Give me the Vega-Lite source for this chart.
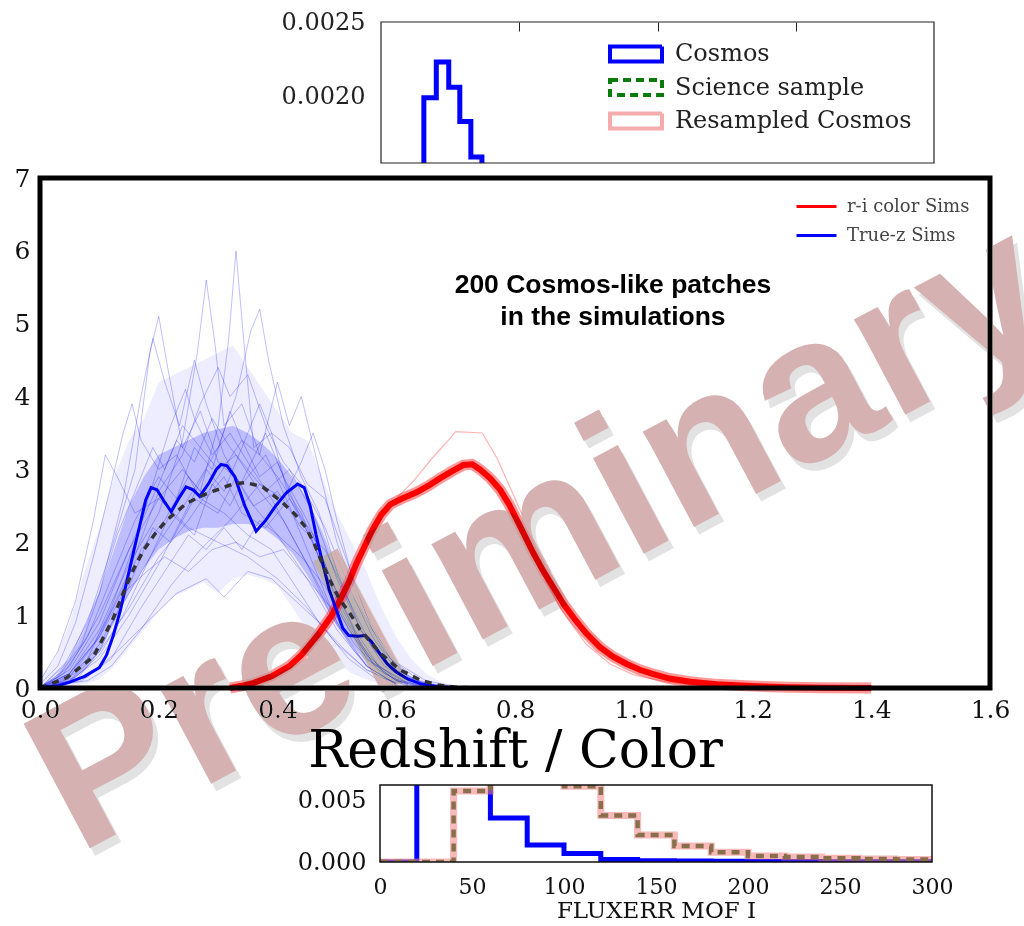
{
  "$schema": "https://vega.github.io/schema/vega-lite/v6.json",
  "background": "white",
  "padding": {"left": 0, "top": 10, "right": -60, "bottom": 0},
  "config": {"view": {"stroke": null}, "font": "DejaVu Serif"},
  "datasets": {
    "topHist": [
      {"x": 105, "y": 0.0012, "sample": "Cosmos"},
      {"x": 155, "y": 0.00199, "sample": "Cosmos"},
      {"x": 200, "y": 0.00223, "sample": "Cosmos"},
      {"x": 245, "y": 0.00206, "sample": "Cosmos"},
      {"x": 285, "y": 0.00183, "sample": "Cosmos"},
      {"x": 325, "y": 0.00159, "sample": "Cosmos"},
      {"x": 365, "y": 0.0013, "sample": "Cosmos"},
      {"x": 405, "y": 0.0011, "sample": "Cosmos"},
      {"x": 445, "y": 0.0009, "sample": "Cosmos"}
    ],
    "band": [
      {"x": 0, "lo": 0, "q1": 0, "q3": 0.02, "hi": 0.12},
      {"x": 0.025, "lo": 0, "q1": 0.02, "q3": 0.15, "hi": 0.4},
      {"x": 0.05, "lo": 0.02, "q1": 0.08, "q3": 0.4, "hi": 0.9},
      {"x": 0.075, "lo": 0.05, "q1": 0.25, "q3": 0.8, "hi": 1.6},
      {"x": 0.1, "lo": 0.12, "q1": 0.5, "q3": 1.3, "hi": 2.2},
      {"x": 0.125, "lo": 0.3, "q1": 0.9, "q3": 1.9, "hi": 2.9},
      {"x": 0.15, "lo": 0.55, "q1": 1.3, "q3": 2.5, "hi": 3.4},
      {"x": 0.175, "lo": 0.8, "q1": 1.65, "q3": 2.9, "hi": 3.7},
      {"x": 0.2, "lo": 1.05, "q1": 1.9, "q3": 3.2, "hi": 4.2},
      {"x": 0.225, "lo": 1.25, "q1": 2.05, "q3": 3.3, "hi": 4.3},
      {"x": 0.25, "lo": 1.35, "q1": 2.15, "q3": 3.4, "hi": 4.4},
      {"x": 0.275, "lo": 1.45, "q1": 2.2, "q3": 3.5, "hi": 4.5},
      {"x": 0.3, "lo": 1.3, "q1": 2.2, "q3": 3.55, "hi": 4.6},
      {"x": 0.325, "lo": 1.5, "q1": 2.25, "q3": 3.6, "hi": 4.7},
      {"x": 0.35, "lo": 1.55, "q1": 2.25, "q3": 3.5, "hi": 4.4},
      {"x": 0.375, "lo": 1.5, "q1": 2.2, "q3": 3.35, "hi": 4.1},
      {"x": 0.4, "lo": 1.4, "q1": 2.05, "q3": 3.15, "hi": 3.8},
      {"x": 0.425, "lo": 1.1, "q1": 1.85, "q3": 2.9, "hi": 3.5},
      {"x": 0.45, "lo": 0.8, "q1": 1.55, "q3": 2.6, "hi": 3.4},
      {"x": 0.475, "lo": 0.55, "q1": 1.2, "q3": 2.15, "hi": 2.9},
      {"x": 0.5, "lo": 0.35, "q1": 0.85, "q3": 1.65, "hi": 2.4},
      {"x": 0.525, "lo": 0.2, "q1": 0.6, "q3": 1.3, "hi": 2.0},
      {"x": 0.55, "lo": 0.12, "q1": 0.35, "q3": 0.95, "hi": 1.6},
      {"x": 0.575, "lo": 0.05, "q1": 0.18, "q3": 0.6, "hi": 1.1},
      {"x": 0.6, "lo": 0.02, "q1": 0.08, "q3": 0.33, "hi": 0.7},
      {"x": 0.625, "lo": 0.01, "q1": 0.03, "q3": 0.15, "hi": 0.4},
      {"x": 0.65, "lo": 0, "q1": 0.01, "q3": 0.06, "hi": 0.2},
      {"x": 0.675, "lo": 0, "q1": 0, "q3": 0.02, "hi": 0.08},
      {"x": 0.7, "lo": 0, "q1": 0, "q3": 0.01, "hi": 0.03}
    ],
    "sims": [
      {"id": "a", "x": 0, "y": 0}, {"id": "a", "x": 0.05, "y": 0.3}, {"id": "a", "x": 0.1, "y": 1.0}, {"id": "a", "x": 0.15, "y": 1.9}, {"id": "a", "x": 0.2, "y": 2.6}, {"id": "a", "x": 0.24, "y": 3.0}, {"id": "a", "x": 0.27, "y": 2.7}, {"id": "a", "x": 0.3, "y": 3.6}, {"id": "a", "x": 0.318, "y": 4.8}, {"id": "a", "x": 0.33, "y": 6.0}, {"id": "a", "x": 0.345, "y": 4.6}, {"id": "a", "x": 0.36, "y": 3.3}, {"id": "a", "x": 0.39, "y": 3.5}, {"id": "a", "x": 0.42, "y": 2.6}, {"id": "a", "x": 0.46, "y": 2.0}, {"id": "a", "x": 0.5, "y": 1.1}, {"id": "a", "x": 0.55, "y": 0.4}, {"id": "a", "x": 0.6, "y": 0.1}, {"id": "a", "x": 0.65, "y": 0},
      {"id": "b", "x": 0, "y": 0}, {"id": "b", "x": 0.05, "y": 0.2}, {"id": "b", "x": 0.1, "y": 0.8}, {"id": "b", "x": 0.15, "y": 1.7}, {"id": "b", "x": 0.2, "y": 2.4}, {"id": "b", "x": 0.24, "y": 3.4}, {"id": "b", "x": 0.265, "y": 4.6}, {"id": "b", "x": 0.28, "y": 5.6}, {"id": "b", "x": 0.295, "y": 4.7}, {"id": "b", "x": 0.31, "y": 3.6}, {"id": "b", "x": 0.34, "y": 3.9}, {"id": "b", "x": 0.37, "y": 3.2}, {"id": "b", "x": 0.4, "y": 2.9}, {"id": "b", "x": 0.44, "y": 2.4}, {"id": "b", "x": 0.48, "y": 1.6}, {"id": "b", "x": 0.52, "y": 0.9}, {"id": "b", "x": 0.56, "y": 0.35}, {"id": "b", "x": 0.62, "y": 0.05},
      {"id": "c", "x": 0, "y": 0}, {"id": "c", "x": 0.04, "y": 0.3}, {"id": "c", "x": 0.08, "y": 0.9}, {"id": "c", "x": 0.12, "y": 1.9}, {"id": "c", "x": 0.16, "y": 3.0}, {"id": "c", "x": 0.185, "y": 4.6}, {"id": "c", "x": 0.2, "y": 5.1}, {"id": "c", "x": 0.215, "y": 4.4}, {"id": "c", "x": 0.24, "y": 3.3}, {"id": "c", "x": 0.27, "y": 3.8}, {"id": "c", "x": 0.3, "y": 3.1}, {"id": "c", "x": 0.34, "y": 2.8}, {"id": "c", "x": 0.38, "y": 3.2}, {"id": "c", "x": 0.42, "y": 2.5}, {"id": "c", "x": 0.46, "y": 1.7}, {"id": "c", "x": 0.5, "y": 0.9}, {"id": "c", "x": 0.55, "y": 0.3}, {"id": "c", "x": 0.6, "y": 0.05},
      {"id": "d", "x": 0, "y": 0}, {"id": "d", "x": 0.06, "y": 0.2}, {"id": "d", "x": 0.1, "y": 0.6}, {"id": "d", "x": 0.15, "y": 1.3}, {"id": "d", "x": 0.2, "y": 2.0}, {"id": "d", "x": 0.25, "y": 2.6}, {"id": "d", "x": 0.3, "y": 3.3}, {"id": "d", "x": 0.33, "y": 4.0}, {"id": "d", "x": 0.355, "y": 4.9}, {"id": "d", "x": 0.37, "y": 5.2}, {"id": "d", "x": 0.385, "y": 4.5}, {"id": "d", "x": 0.41, "y": 3.6}, {"id": "d", "x": 0.44, "y": 2.9}, {"id": "d", "x": 0.47, "y": 2.4}, {"id": "d", "x": 0.5, "y": 1.6}, {"id": "d", "x": 0.54, "y": 0.8}, {"id": "d", "x": 0.58, "y": 0.3}, {"id": "d", "x": 0.63, "y": 0.05},
      {"id": "e", "x": 0, "y": 0}, {"id": "e", "x": 0.05, "y": 0.4}, {"id": "e", "x": 0.1, "y": 1.3}, {"id": "e", "x": 0.14, "y": 2.6}, {"id": "e", "x": 0.17, "y": 4.0}, {"id": "e", "x": 0.19, "y": 4.8}, {"id": "e", "x": 0.21, "y": 4.2}, {"id": "e", "x": 0.235, "y": 3.6}, {"id": "e", "x": 0.26, "y": 4.5}, {"id": "e", "x": 0.28, "y": 3.9}, {"id": "e", "x": 0.31, "y": 3.2}, {"id": "e", "x": 0.35, "y": 2.6}, {"id": "e", "x": 0.4, "y": 2.1}, {"id": "e", "x": 0.45, "y": 1.5}, {"id": "e", "x": 0.5, "y": 0.8}, {"id": "e", "x": 0.55, "y": 0.3}, {"id": "e", "x": 0.6, "y": 0.05},
      {"id": "f", "x": 0, "y": 0.05}, {"id": "f", "x": 0.03, "y": 0.3}, {"id": "f", "x": 0.06, "y": 0.9}, {"id": "f", "x": 0.09, "y": 1.8}, {"id": "f", "x": 0.12, "y": 2.8}, {"id": "f", "x": 0.14, "y": 3.5}, {"id": "f", "x": 0.155, "y": 3.9}, {"id": "f", "x": 0.17, "y": 3.4}, {"id": "f", "x": 0.2, "y": 3.0}, {"id": "f", "x": 0.23, "y": 3.2}, {"id": "f", "x": 0.27, "y": 2.6}, {"id": "f", "x": 0.31, "y": 2.4}, {"id": "f", "x": 0.35, "y": 2.1}, {"id": "f", "x": 0.39, "y": 1.9}, {"id": "f", "x": 0.43, "y": 1.4}, {"id": "f", "x": 0.47, "y": 0.9}, {"id": "f", "x": 0.52, "y": 0.4}, {"id": "f", "x": 0.57, "y": 0.1},
      {"id": "g", "x": 0, "y": 0.1}, {"id": "g", "x": 0.03, "y": 0.5}, {"id": "g", "x": 0.06, "y": 1.2}, {"id": "g", "x": 0.09, "y": 2.3}, {"id": "g", "x": 0.11, "y": 3.2}, {"id": "g", "x": 0.13, "y": 2.9}, {"id": "g", "x": 0.16, "y": 2.4}, {"id": "g", "x": 0.2, "y": 2.6}, {"id": "g", "x": 0.25, "y": 2.2}, {"id": "g", "x": 0.3, "y": 2.0}, {"id": "g", "x": 0.35, "y": 1.8}, {"id": "g", "x": 0.4, "y": 1.5}, {"id": "g", "x": 0.45, "y": 1.1}, {"id": "g", "x": 0.5, "y": 0.6}, {"id": "g", "x": 0.55, "y": 0.25}, {"id": "g", "x": 0.6, "y": 0.05},
      {"id": "h", "x": 0, "y": 0}, {"id": "h", "x": 0.08, "y": 0.1}, {"id": "h", "x": 0.12, "y": 0.3}, {"id": "h", "x": 0.17, "y": 0.8}, {"id": "h", "x": 0.22, "y": 1.4}, {"id": "h", "x": 0.27, "y": 1.9}, {"id": "h", "x": 0.32, "y": 2.3}, {"id": "h", "x": 0.37, "y": 2.8}, {"id": "h", "x": 0.41, "y": 2.6}, {"id": "h", "x": 0.44, "y": 3.1}, {"id": "h", "x": 0.46, "y": 3.5}, {"id": "h", "x": 0.48, "y": 3.0}, {"id": "h", "x": 0.5, "y": 2.3}, {"id": "h", "x": 0.53, "y": 1.4}, {"id": "h", "x": 0.56, "y": 0.8}, {"id": "h", "x": 0.6, "y": 0.35}, {"id": "h", "x": 0.65, "y": 0.1}, {"id": "h", "x": 0.7, "y": 0.02},
      {"id": "i", "x": 0, "y": 0}, {"id": "i", "x": 0.08, "y": 0.15}, {"id": "i", "x": 0.13, "y": 0.5}, {"id": "i", "x": 0.18, "y": 0.9}, {"id": "i", "x": 0.23, "y": 1.3}, {"id": "i", "x": 0.28, "y": 1.5}, {"id": "i", "x": 0.31, "y": 1.25}, {"id": "i", "x": 0.35, "y": 1.6}, {"id": "i", "x": 0.39, "y": 1.5}, {"id": "i", "x": 0.43, "y": 1.2}, {"id": "i", "x": 0.47, "y": 0.9}, {"id": "i", "x": 0.51, "y": 0.55}, {"id": "i", "x": 0.55, "y": 0.25}, {"id": "i", "x": 0.6, "y": 0.07},
      {"id": "j", "x": 0, "y": 0}, {"id": "j", "x": 0.05, "y": 0.15}, {"id": "j", "x": 0.1, "y": 0.7}, {"id": "j", "x": 0.15, "y": 1.6}, {"id": "j", "x": 0.2, "y": 2.7}, {"id": "j", "x": 0.24, "y": 3.2}, {"id": "j", "x": 0.27, "y": 3.9}, {"id": "j", "x": 0.3, "y": 4.4}, {"id": "j", "x": 0.32, "y": 4.0}, {"id": "j", "x": 0.35, "y": 4.3}, {"id": "j", "x": 0.38, "y": 3.6}, {"id": "j", "x": 0.41, "y": 3.1}, {"id": "j", "x": 0.44, "y": 2.8}, {"id": "j", "x": 0.48, "y": 2.2}, {"id": "j", "x": 0.52, "y": 1.4}, {"id": "j", "x": 0.56, "y": 0.7}, {"id": "j", "x": 0.6, "y": 0.25}, {"id": "j", "x": 0.65, "y": 0.05},
      {"id": "k", "x": 0, "y": 0}, {"id": "k", "x": 0.06, "y": 0.1}, {"id": "k", "x": 0.1, "y": 0.5}, {"id": "k", "x": 0.15, "y": 1.1}, {"id": "k", "x": 0.2, "y": 1.8}, {"id": "k", "x": 0.25, "y": 2.3}, {"id": "k", "x": 0.3, "y": 2.9}, {"id": "k", "x": 0.34, "y": 3.4}, {"id": "k", "x": 0.37, "y": 3.2}, {"id": "k", "x": 0.4, "y": 4.2}, {"id": "k", "x": 0.42, "y": 3.6}, {"id": "k", "x": 0.44, "y": 4.0}, {"id": "k", "x": 0.47, "y": 3.0}, {"id": "k", "x": 0.5, "y": 2.0}, {"id": "k", "x": 0.54, "y": 1.1}, {"id": "k", "x": 0.58, "y": 0.5}, {"id": "k", "x": 0.62, "y": 0.15}, {"id": "k", "x": 0.66, "y": 0.03},
      {"id": "l", "x": 0, "y": 0}, {"id": "l", "x": 0.05, "y": 0.25}, {"id": "l", "x": 0.1, "y": 0.9}, {"id": "l", "x": 0.15, "y": 1.9}, {"id": "l", "x": 0.2, "y": 2.8}, {"id": "l", "x": 0.23, "y": 3.4}, {"id": "l", "x": 0.26, "y": 3.1}, {"id": "l", "x": 0.29, "y": 3.7}, {"id": "l", "x": 0.32, "y": 3.3}, {"id": "l", "x": 0.35, "y": 3.0}, {"id": "l", "x": 0.38, "y": 3.5}, {"id": "l", "x": 0.41, "y": 2.9}, {"id": "l", "x": 0.45, "y": 2.3}, {"id": "l", "x": 0.49, "y": 1.5}, {"id": "l", "x": 0.53, "y": 0.8}, {"id": "l", "x": 0.57, "y": 0.3}, {"id": "l", "x": 0.62, "y": 0.07},
      {"id": "m", "x": 0, "y": 0}, {"id": "m", "x": 0.05, "y": 0.1}, {"id": "m", "x": 0.1, "y": 0.5}, {"id": "m", "x": 0.15, "y": 1.4}, {"id": "m", "x": 0.19, "y": 2.2}, {"id": "m", "x": 0.22, "y": 2.0}, {"id": "m", "x": 0.26, "y": 2.6}, {"id": "m", "x": 0.3, "y": 2.4}, {"id": "m", "x": 0.33, "y": 2.9}, {"id": "m", "x": 0.36, "y": 2.5}, {"id": "m", "x": 0.4, "y": 2.7}, {"id": "m", "x": 0.44, "y": 2.2}, {"id": "m", "x": 0.48, "y": 1.9}, {"id": "m", "x": 0.52, "y": 1.2}, {"id": "m", "x": 0.56, "y": 0.55}, {"id": "m", "x": 0.6, "y": 0.2}, {"id": "m", "x": 0.65, "y": 0.04},
      {"id": "n", "x": 0, "y": 0}, {"id": "n", "x": 0.04, "y": 0.2}, {"id": "n", "x": 0.08, "y": 0.7}, {"id": "n", "x": 0.12, "y": 1.5}, {"id": "n", "x": 0.16, "y": 2.3}, {"id": "n", "x": 0.2, "y": 2.9}, {"id": "n", "x": 0.23, "y": 2.6}, {"id": "n", "x": 0.26, "y": 3.3}, {"id": "n", "x": 0.29, "y": 3.0}, {"id": "n", "x": 0.32, "y": 3.8}, {"id": "n", "x": 0.34, "y": 3.4}, {"id": "n", "x": 0.37, "y": 2.9}, {"id": "n", "x": 0.4, "y": 3.1}, {"id": "n", "x": 0.43, "y": 2.5}, {"id": "n", "x": 0.47, "y": 1.8}, {"id": "n", "x": 0.51, "y": 1.0}, {"id": "n", "x": 0.55, "y": 0.45}, {"id": "n", "x": 0.6, "y": 0.12}, {"id": "n", "x": 0.65, "y": 0.02},
      {"id": "o", "x": 0, "y": 0}, {"id": "o", "x": 0.06, "y": 0.15}, {"id": "o", "x": 0.1, "y": 0.45}, {"id": "o", "x": 0.14, "y": 1.0}, {"id": "o", "x": 0.18, "y": 1.7}, {"id": "o", "x": 0.22, "y": 2.4}, {"id": "o", "x": 0.26, "y": 2.1}, {"id": "o", "x": 0.29, "y": 2.8}, {"id": "o", "x": 0.32, "y": 2.5}, {"id": "o", "x": 0.35, "y": 3.0}, {"id": "o", "x": 0.38, "y": 2.7}, {"id": "o", "x": 0.42, "y": 3.0}, {"id": "o", "x": 0.46, "y": 2.4}, {"id": "o", "x": 0.5, "y": 1.5}, {"id": "o", "x": 0.54, "y": 0.8}, {"id": "o", "x": 0.58, "y": 0.35}, {"id": "o", "x": 0.63, "y": 0.08},
      {"id": "p", "x": 0, "y": 0}, {"id": "p", "x": 0.04, "y": 0.1}, {"id": "p", "x": 0.08, "y": 0.4}, {"id": "p", "x": 0.12, "y": 1.1}, {"id": "p", "x": 0.16, "y": 2.0}, {"id": "p", "x": 0.19, "y": 2.8}, {"id": "p", "x": 0.22, "y": 3.6}, {"id": "p", "x": 0.245, "y": 4.1}, {"id": "p", "x": 0.26, "y": 3.7}, {"id": "p", "x": 0.29, "y": 3.2}, {"id": "p", "x": 0.32, "y": 3.5}, {"id": "p", "x": 0.35, "y": 3.1}, {"id": "p", "x": 0.39, "y": 2.6}, {"id": "p", "x": 0.43, "y": 2.0}, {"id": "p", "x": 0.47, "y": 1.4}, {"id": "p", "x": 0.51, "y": 0.75}, {"id": "p", "x": 0.55, "y": 0.3}, {"id": "p", "x": 0.6, "y": 0.06},
      {"id": "q", "x": 0, "y": 0}, {"id": "q", "x": 0.07, "y": 0.1}, {"id": "q", "x": 0.12, "y": 0.4}, {"id": "q", "x": 0.17, "y": 1.1}, {"id": "q", "x": 0.21, "y": 1.6}, {"id": "q", "x": 0.25, "y": 2.1}, {"id": "q", "x": 0.28, "y": 1.9}, {"id": "q", "x": 0.31, "y": 2.2}, {"id": "q", "x": 0.34, "y": 1.9}, {"id": "q", "x": 0.37, "y": 2.3}, {"id": "q", "x": 0.4, "y": 2.1}, {"id": "q", "x": 0.44, "y": 1.8}, {"id": "q", "x": 0.48, "y": 1.4}, {"id": "q", "x": 0.52, "y": 0.8}, {"id": "q", "x": 0.56, "y": 0.35}, {"id": "q", "x": 0.6, "y": 0.1}, {"id": "q", "x": 0.65, "y": 0.02},
      {"id": "r", "x": 0, "y": 0.02}, {"id": "r", "x": 0.03, "y": 0.15}, {"id": "r", "x": 0.07, "y": 0.6}, {"id": "r", "x": 0.1, "y": 1.3}, {"id": "r", "x": 0.13, "y": 2.1}, {"id": "r", "x": 0.16, "y": 2.7}, {"id": "r", "x": 0.19, "y": 3.3}, {"id": "r", "x": 0.21, "y": 3.0}, {"id": "r", "x": 0.24, "y": 3.6}, {"id": "r", "x": 0.27, "y": 3.3}, {"id": "r", "x": 0.3, "y": 3.0}, {"id": "r", "x": 0.33, "y": 3.2}, {"id": "r", "x": 0.37, "y": 2.7}, {"id": "r", "x": 0.41, "y": 2.3}, {"id": "r", "x": 0.45, "y": 1.7}, {"id": "r", "x": 0.49, "y": 1.0}, {"id": "r", "x": 0.53, "y": 0.5}, {"id": "r", "x": 0.57, "y": 0.15}, {"id": "r", "x": 0.62, "y": 0.03},
      {"id": "s", "x": 0, "y": 0}, {"id": "s", "x": 0.05, "y": 0.1}, {"id": "s", "x": 0.1, "y": 0.4}, {"id": "s", "x": 0.15, "y": 1.0}, {"id": "s", "x": 0.2, "y": 1.7}, {"id": "s", "x": 0.25, "y": 2.5}, {"id": "s", "x": 0.28, "y": 3.0}, {"id": "s", "x": 0.31, "y": 2.7}, {"id": "s", "x": 0.34, "y": 3.3}, {"id": "s", "x": 0.37, "y": 3.9}, {"id": "s", "x": 0.39, "y": 3.5}, {"id": "s", "x": 0.42, "y": 3.3}, {"id": "s", "x": 0.45, "y": 2.8}, {"id": "s", "x": 0.48, "y": 2.6}, {"id": "s", "x": 0.51, "y": 1.9}, {"id": "s", "x": 0.55, "y": 1.0}, {"id": "s", "x": 0.59, "y": 0.4}, {"id": "s", "x": 0.64, "y": 0.1}, {"id": "s", "x": 0.68, "y": 0.02},
      {"id": "t", "x": 0, "y": 0}, {"id": "t", "x": 0.05, "y": 0.2}, {"id": "t", "x": 0.09, "y": 0.6}, {"id": "t", "x": 0.13, "y": 1.2}, {"id": "t", "x": 0.17, "y": 1.9}, {"id": "t", "x": 0.21, "y": 2.3}, {"id": "t", "x": 0.25, "y": 2.9}, {"id": "t", "x": 0.28, "y": 2.6}, {"id": "t", "x": 0.31, "y": 2.9}, {"id": "t", "x": 0.34, "y": 2.4}, {"id": "t", "x": 0.38, "y": 2.2}, {"id": "t", "x": 0.42, "y": 2.6}, {"id": "t", "x": 0.46, "y": 2.1}, {"id": "t", "x": 0.5, "y": 1.3}, {"id": "t", "x": 0.54, "y": 0.6}, {"id": "t", "x": 0.58, "y": 0.2}, {"id": "t", "x": 0.62, "y": 0.04},
      {"id": "u", "x": 0, "y": 0}, {"id": "u", "x": 0.05, "y": 0.2}, {"id": "u", "x": 0.1, "y": 0.7}, {"id": "u", "x": 0.14, "y": 1.3}, {"id": "u", "x": 0.18, "y": 1.6}, {"id": "u", "x": 0.21, "y": 1.8}, {"id": "u", "x": 0.25, "y": 1.6}, {"id": "u", "x": 0.29, "y": 1.9}, {"id": "u", "x": 0.33, "y": 2.0}, {"id": "u", "x": 0.37, "y": 1.8}, {"id": "u", "x": 0.41, "y": 1.9}, {"id": "u", "x": 0.45, "y": 1.5}, {"id": "u", "x": 0.49, "y": 1.1}, {"id": "u", "x": 0.53, "y": 0.6}, {"id": "u", "x": 0.57, "y": 0.25}, {"id": "u", "x": 0.61, "y": 0.06}
    ],
    "redfaint": [
      {"id": "o1", "x": 0.6, "y": 2.6}, {"id": "o1", "x": 0.63, "y": 2.85}, {"id": "o1", "x": 0.66, "y": 3.15}, {"id": "o1", "x": 0.69, "y": 3.42}, {"id": "o1", "x": 0.7, "y": 3.52}, {"id": "o1", "x": 0.745, "y": 3.5}, {"id": "o1", "x": 0.77, "y": 3.15}, {"id": "o1", "x": 0.8, "y": 2.6}, {"id": "o1", "x": 0.83, "y": 2.05}, {"id": "o1", "x": 0.86, "y": 1.6},
      {"id": "o2", "x": 0.85, "y": 1.5}, {"id": "o2", "x": 0.88, "y": 1.05}, {"id": "o2", "x": 0.92, "y": 0.6}, {"id": "o2", "x": 0.96, "y": 0.33}, {"id": "o2", "x": 1.0, "y": 0.18}, {"id": "o2", "x": 1.05, "y": 0.09}, {"id": "o2", "x": 1.1, "y": 0.04}, {"id": "o2", "x": 1.2, "y": 0.01}
    ],
    "ri": [
      {"x": 0.32, "y": 0}, {"x": 0.34, "y": 0.03}, {"x": 0.36, "y": 0.07}, {"x": 0.39, "y": 0.16}, {"x": 0.42, "y": 0.3}, {"x": 0.44, "y": 0.45}, {"x": 0.47, "y": 0.75}, {"x": 0.49, "y": 0.98}, {"x": 0.505, "y": 1.2}, {"x": 0.52, "y": 1.45}, {"x": 0.533, "y": 1.71}, {"x": 0.547, "y": 1.95}, {"x": 0.56, "y": 2.17}, {"x": 0.575, "y": 2.38}, {"x": 0.59, "y": 2.52}, {"x": 0.61, "y": 2.6}, {"x": 0.635, "y": 2.69}, {"x": 0.655, "y": 2.78}, {"x": 0.674, "y": 2.88}, {"x": 0.695, "y": 2.98}, {"x": 0.713, "y": 3.06}, {"x": 0.728, "y": 3.07}, {"x": 0.741, "y": 3.0}, {"x": 0.758, "y": 2.88}, {"x": 0.775, "y": 2.72}, {"x": 0.79, "y": 2.52}, {"x": 0.803, "y": 2.31}, {"x": 0.817, "y": 2.08}, {"x": 0.831, "y": 1.85}, {"x": 0.848, "y": 1.6}, {"x": 0.864, "y": 1.39}, {"x": 0.882, "y": 1.15}, {"x": 0.9, "y": 0.95}, {"x": 0.92, "y": 0.75}, {"x": 0.943, "y": 0.56}, {"x": 0.965, "y": 0.43}, {"x": 0.988, "y": 0.33}, {"x": 1.01, "y": 0.25}, {"x": 1.033, "y": 0.19}, {"x": 1.06, "y": 0.13}, {"x": 1.095, "y": 0.085}, {"x": 1.14, "y": 0.05}, {"x": 1.18, "y": 0.035}, {"x": 1.22, "y": 0.02}, {"x": 1.26, "y": 0.01}, {"x": 1.32, "y": 0.004}, {"x": 1.4, "y": 0}
    ],
    "cosmosz": [
      {"x": 0, "y": 0}, {"x": 0.03, "y": 0.03}, {"x": 0.05, "y": 0.08}, {"x": 0.075, "y": 0.16}, {"x": 0.1, "y": 0.28}, {"x": 0.112, "y": 0.45}, {"x": 0.123, "y": 0.71}, {"x": 0.135, "y": 1.05}, {"x": 0.145, "y": 1.42}, {"x": 0.157, "y": 1.85}, {"x": 0.168, "y": 2.23}, {"x": 0.178, "y": 2.58}, {"x": 0.187, "y": 2.75}, {"x": 0.197, "y": 2.72}, {"x": 0.21, "y": 2.55}, {"x": 0.221, "y": 2.42}, {"x": 0.235, "y": 2.62}, {"x": 0.246, "y": 2.76}, {"x": 0.258, "y": 2.72}, {"x": 0.269, "y": 2.63}, {"x": 0.285, "y": 2.82}, {"x": 0.297, "y": 3.0}, {"x": 0.305, "y": 3.07}, {"x": 0.315, "y": 3.05}, {"x": 0.328, "y": 2.9}, {"x": 0.345, "y": 2.5}, {"x": 0.364, "y": 2.15}, {"x": 0.38, "y": 2.3}, {"x": 0.397, "y": 2.5}, {"x": 0.415, "y": 2.68}, {"x": 0.434, "y": 2.8}, {"x": 0.445, "y": 2.75}, {"x": 0.455, "y": 2.5}, {"x": 0.465, "y": 2.1}, {"x": 0.475, "y": 1.75}, {"x": 0.487, "y": 1.35}, {"x": 0.5, "y": 1.05}, {"x": 0.51, "y": 0.82}, {"x": 0.52, "y": 0.72}, {"x": 0.535, "y": 0.71}, {"x": 0.548, "y": 0.72}, {"x": 0.558, "y": 0.64}, {"x": 0.57, "y": 0.5}, {"x": 0.585, "y": 0.33}, {"x": 0.6, "y": 0.22}, {"x": 0.62, "y": 0.12}, {"x": 0.64, "y": 0.06}, {"x": 0.67, "y": 0.02}, {"x": 0.7, "y": 0.005}, {"x": 0.75, "y": 0}
    ],
    "meanz": [
      {"x": 0, "y": 0}, {"x": 0.045, "y": 0.14}, {"x": 0.09, "y": 0.43}, {"x": 0.123, "y": 0.95}, {"x": 0.14, "y": 1.3}, {"x": 0.157, "y": 1.62}, {"x": 0.175, "y": 1.9}, {"x": 0.195, "y": 2.13}, {"x": 0.213, "y": 2.3}, {"x": 0.246, "y": 2.53}, {"x": 0.27, "y": 2.63}, {"x": 0.291, "y": 2.7}, {"x": 0.325, "y": 2.8}, {"x": 0.347, "y": 2.82}, {"x": 0.375, "y": 2.76}, {"x": 0.408, "y": 2.55}, {"x": 0.43, "y": 2.38}, {"x": 0.448, "y": 2.2}, {"x": 0.462, "y": 1.98}, {"x": 0.475, "y": 1.72}, {"x": 0.49, "y": 1.45}, {"x": 0.505, "y": 1.21}, {"x": 0.52, "y": 1.05}, {"x": 0.539, "y": 0.8}, {"x": 0.573, "y": 0.48}, {"x": 0.606, "y": 0.25}, {"x": 0.64, "y": 0.11}, {"x": 0.67, "y": 0.04}, {"x": 0.7, "y": 0.01}, {"x": 0.75, "y": 0}
    ],
    "fluxCosmos": [
      {"x": 0, "y": 0}, {"x": 20, "y": 0.022}, {"x": 40, "y": 0.012}, {"x": 60, "y": 0.0036}, {"x": 80, "y": 0.0014}, {"x": 100, "y": 0.0007}, {"x": 120, "y": 0.0002}, {"x": 140, "y": 0.0001}, {"x": 160, "y": 0.00008}, {"x": 180, "y": 0.00006}, {"x": 200, "y": 0.00005}, {"x": 220, "y": 0.00004}, {"x": 240, "y": 0.00003}, {"x": 260, "y": 0.00002}, {"x": 280, "y": 0.00002}, {"x": 300, "y": 0.00002}
    ],
    "fluxSci": [
      {"x": 0, "y": 0}, {"x": 20, "y": 0}, {"x": 40, "y": 0.0058}, {"x": 60, "y": 0.0095}, {"x": 80, "y": 0.0085}, {"x": 100, "y": 0.0062}, {"x": 120, "y": 0.0038}, {"x": 140, "y": 0.0022}, {"x": 160, "y": 0.0013}, {"x": 180, "y": 0.0008}, {"x": 200, "y": 0.0005}, {"x": 220, "y": 0.0004}, {"x": 240, "y": 0.0003}, {"x": 260, "y": 0.00025}, {"x": 280, "y": 0.0002}, {"x": 300, "y": 0.0002}
    ],
    "labels": [
      {"label": "200 Cosmos-like patches\nin the simulations"}
    ],
    "watermark": [
      {"label": "Preliminary"}
    ],
    "frame": [
      {"f": 1}
    ]
  },
  "bounds": "flush",
  "spacing": 15,
  "resolve": {"scale": {"color": "independent", "strokeDash": "independent"}, "legend": {"color": "independent", "strokeDash": "independent"}},
  "vconcat": [
    {
      "width": 894,
      "height": 141,
      "layer": [
        {
          "data": {"name": "topHist"},
          "mark": {"type": "line", "interpolate": "step-after", "strokeWidth": 5, "clip": true},
          "encoding": {
            "x": {"field": "x", "type": "quantitative", "scale": {"domain": [0, 2000], "range": [341, 894], "nice": false}, "axis": {"orient": "top", "labels": false, "domain": false, "ticks": true, "tickSize": -9, "tickColor": "#222", "values": [500, 1000, 1500], "title": null, "grid": false}},
            "y": {"field": "y", "type": "quantitative", "scale": {"domain": [0.00155, 0.0025], "nice": false, "zero": false}, "axis": {"offset": -341, "values": [0.002, 0.0025], "format": ".4f", "labelFont": "DejaVu Serif", "labelFontSize": 24, "labelColor": "#222", "labelPadding": 16, "ticks": false, "domain": false, "grid": false, "title": null}},
            "color": {
              "field": "sample", "type": "nominal",
              "scale": {"domain": ["Cosmos", "Science  sample", "Resampled Cosmos"], "range": ["#0000ff", "#0a7a0a", "#f08080"]},
              "legend": {
                "orient": "none", "legendX": 581, "legendY": 17, "title": null, "padding": 0,
                "symbolType": "M-2,-0.58H2V0.58H-2Z", "symbolSize": 676, "symbolStrokeWidth": 4,
                "labelFont": "DejaVu Serif", "labelFontSize": 24, "labelColor": "#222", "labelOffset": 24, "labelLimit": 0, "rowPadding": 1.5,
                "encode": {"symbols": {"update": {"fill": {"value": "transparent"}, "strokeDash": {"signal": "datum.value === 'Science  sample' ? [8, 5] : [1, 0]"}, "opacity": {"signal": "datum.value === 'Resampled Cosmos' ? 0.65 : 1"}}}}
              }
            }
          }
        },
        {
          "data": {"name": "frame"},
          "mark": {"type": "rect", "fill": "transparent", "stroke": "#222", "strokeWidth": 1.2},
          "encoding": {
            "x": {"datum": 0, "type": "quantitative"},
            "x2": {"datum": 2000},
            "y": {"datum": 0.00155, "type": "quantitative"},
            "y2": {"datum": 0.0025}
          }
        }
      ]
    },
    {
      "width": 950,
      "height": 592,
      "layer": [
        {
          "data": {"name": "band"},
          "mark": {"type": "area", "color": "#0000ff", "opacity": 0.07},
          "encoding": {
            "x": {"field": "x", "type": "quantitative", "scale": {"domain": [0, 1.6], "nice": false, "zero": false},
              "axis": {"offset": -82, "values": [0, 0.2, 0.4, 0.6, 0.8, 1.0, 1.2, 1.4, 1.6], "format": ".1f", "labelFlush": false, "labelOverlap": false, "labelFont": "DejaVu Serif", "labelFontSize": 25, "labelColor": "#111", "labelPadding": 9, "ticks": false, "domain": false, "grid": false,
                "title": "Redshift / Color", "titleFont": "DejaVu Serif", "titleFontSize": 52, "titleFontWeight": "normal", "titleColor": "#000", "titlePadding": 3}},
            "y": {"field": "lo", "type": "quantitative", "scale": {"domain": [0, 7], "range": [510, 0], "nice": false},
              "axis": {"values": [0, 1, 2, 3, 4, 5, 6, 7], "format": "d", "labelFlush": false, "labelOverlap": false, "labelFont": "DejaVu Serif", "labelFontSize": 25, "labelColor": "#111", "labelPadding": 10, "ticks": false, "domain": false, "grid": false, "title": null}},
            "y2": {"field": "hi"}
          }
        },
        {
          "data": {"name": "band"},
          "mark": {"type": "area", "color": "#0000ff", "opacity": 0.2},
          "encoding": {
            "x": {"field": "x", "type": "quantitative"},
            "y": {"field": "q1", "type": "quantitative"},
            "y2": {"field": "q3"}
          }
        },
        {
          "data": {"name": "sims"},
          "mark": {"type": "line", "strokeWidth": 1, "opacity": 0.25},
          "encoding": {
            "x": {"field": "x", "type": "quantitative"},
            "y": {"field": "y", "type": "quantitative"},
            "detail": {"field": "id", "type": "nominal"},
            "color": {"datum": "True-z Sims", "type": "nominal"}
          }
        },
        {
          "data": {"name": "redfaint"},
          "mark": {"type": "line", "strokeWidth": 1.2, "opacity": 0.3, "color": "#ff0000"},
          "encoding": {
            "x": {"field": "x", "type": "quantitative"},
            "y": {"field": "y", "type": "quantitative"},
            "detail": {"field": "id", "type": "nominal"}
          }
        },
        {
          "data": {"name": "ri"},
          "mark": {"type": "line", "strokeWidth": 11, "opacity": 0.4, "color": "#ff0000"},
          "encoding": {
            "x": {"field": "x", "type": "quantitative"},
            "y": {"field": "y", "type": "quantitative"}
          }
        },
        {
          "data": {"name": "ri"},
          "mark": {"type": "line", "strokeWidth": 6},
          "encoding": {
            "x": {"field": "x", "type": "quantitative"},
            "y": {"field": "y", "type": "quantitative"},
            "color": {"datum": "r-i color Sims", "type": "nominal",
              "scale": {"domain": ["r-i color Sims", "True-z Sims"], "range": ["#ff0000", "#0000ff"]},
              "legend": {"orient": "none", "legendX": 765, "legendY": 17, "title": null, "padding": 0, "symbolType": "M-2,0H2", "symbolSize": 400, "symbolStrokeWidth": 3, "symbolOpacity": 1, "labelFont": "DejaVu Serif", "labelFontSize": 18, "labelColor": "#444", "labelOffset": 19, "labelLimit": 0, "rowPadding": 8,
                "encode": {"symbols": {"update": {"opacity": {"value": 1}, "strokeOpacity": {"value": 1}}}}}}
          }
        },
        {
          "data": {"name": "cosmosz"},
          "mark": {"type": "line", "color": "#0000ff", "strokeWidth": 3},
          "encoding": {
            "x": {"field": "x", "type": "quantitative"},
            "y": {"field": "y", "type": "quantitative"}
          }
        },
        {
          "data": {"name": "meanz"},
          "mark": {"type": "line", "color": "#333333", "strokeWidth": 3.5, "strokeDash": [7, 6]},
          "encoding": {
            "x": {"field": "x", "type": "quantitative"},
            "y": {"field": "y", "type": "quantitative"}
          }
        },
        {
          "data": {"name": "frame"},
          "mark": {"type": "rect", "fill": "transparent", "stroke": "#000", "strokeWidth": 5},
          "encoding": {
            "x": {"datum": 0, "type": "quantitative"},
            "x2": {"datum": 1.6},
            "y": {"datum": 0, "type": "quantitative"},
            "y2": {"datum": 7}
          }
        },
        {
          "data": {"name": "labels"},
          "mark": {"type": "text", "font": "Liberation Sans", "fontWeight": "bold", "fontSize": 26.5, "lineHeight": 32, "lineBreak": "\n", "align": "center", "baseline": "middle", "color": "#000"},
          "encoding": {
            "x": {"datum": 0.965, "type": "quantitative"},
            "y": {"datum": 5.53, "type": "quantitative"},
            "text": {"field": "label"}
          }
        },
        {
          "data": {"name": "watermark"},
          "mark": {"type": "text", "font": "Liberation Sans", "fontWeight": "bold", "fontSize": 205, "angle": 332, "align": "center", "baseline": "middle", "color": "#e2e2e2", "dx": 1, "dy": 9, "blend": "darken"},
          "encoding": {
            "x": {"datum": 0.845, "type": "quantitative"},
            "y": {"datum": 2.06, "type": "quantitative"},
            "text": {"field": "label"}
          }
        },
        {
          "data": {"name": "watermark"},
          "mark": {"type": "text", "font": "Liberation Sans", "fontWeight": "bold", "fontSize": 205, "angle": 332, "align": "center", "baseline": "middle", "color": "#d5b1b1", "blend": "darken"},
          "encoding": {
            "x": {"datum": 0.845, "type": "quantitative"},
            "y": {"datum": 2.06, "type": "quantitative"},
            "text": {"field": "label"}
          }
        }
      ]
    },
    {
      "width": 892,
      "height": 77,
      "layer": [
        {
          "data": {"name": "fluxCosmos"},
          "mark": {"type": "line", "interpolate": "step-after", "color": "#0000ff", "strokeWidth": 5, "clip": true},
          "encoding": {
            "x": {"field": "x", "type": "quantitative", "scale": {"domain": [0, 300], "range": [340, 892], "nice": false},
              "axis": {"values": [0, 50, 100, 150, 200, 250, 300], "labelFlush": false, "labelOverlap": false, "labelFont": "DejaVu Serif", "labelFontSize": 22, "labelColor": "#111", "labelPadding": 14, "ticks": false, "domain": false, "grid": false,
                "title": "FLUXERR MOF I", "titleFont": "DejaVu Serif", "titleFontSize": 23, "titleFontWeight": "normal", "titleColor": "#111", "titlePadding": 2}},
            "y": {"field": "y", "type": "quantitative", "scale": {"domain": [0, 0.0063], "nice": false},
              "axis": {"offset": -340, "values": [0, 0.005], "format": ".3f", "labelFont": "DejaVu Serif", "labelFontSize": 24, "labelColor": "#111", "labelPadding": 14, "ticks": false, "domain": false, "grid": false, "title": null}}
          }
        },
        {
          "data": {"name": "fluxSci"},
          "mark": {"type": "line", "interpolate": "step-after", "color": "#0a5a0a", "strokeWidth": 4.5, "strokeDash": [8, 6], "clip": true},
          "encoding": {
            "x": {"field": "x", "type": "quantitative"},
            "y": {"field": "y", "type": "quantitative"}
          }
        },
        {
          "data": {"name": "fluxSci"},
          "mark": {"type": "line", "interpolate": "step-after", "color": "#f08080", "opacity": 0.55, "strokeWidth": 7, "clip": true},
          "encoding": {
            "x": {"field": "x", "type": "quantitative"},
            "y": {"field": "y", "type": "quantitative"}
          }
        },
        {
          "data": {"name": "frame"},
          "mark": {"type": "rect", "fill": "transparent", "stroke": "#111", "strokeWidth": 1.5},
          "encoding": {
            "x": {"datum": 0, "type": "quantitative"},
            "x2": {"datum": 300},
            "y": {"datum": 0, "type": "quantitative"},
            "y2": {"datum": 0.0063}
          }
        }
      ]
    }
  ]
}
